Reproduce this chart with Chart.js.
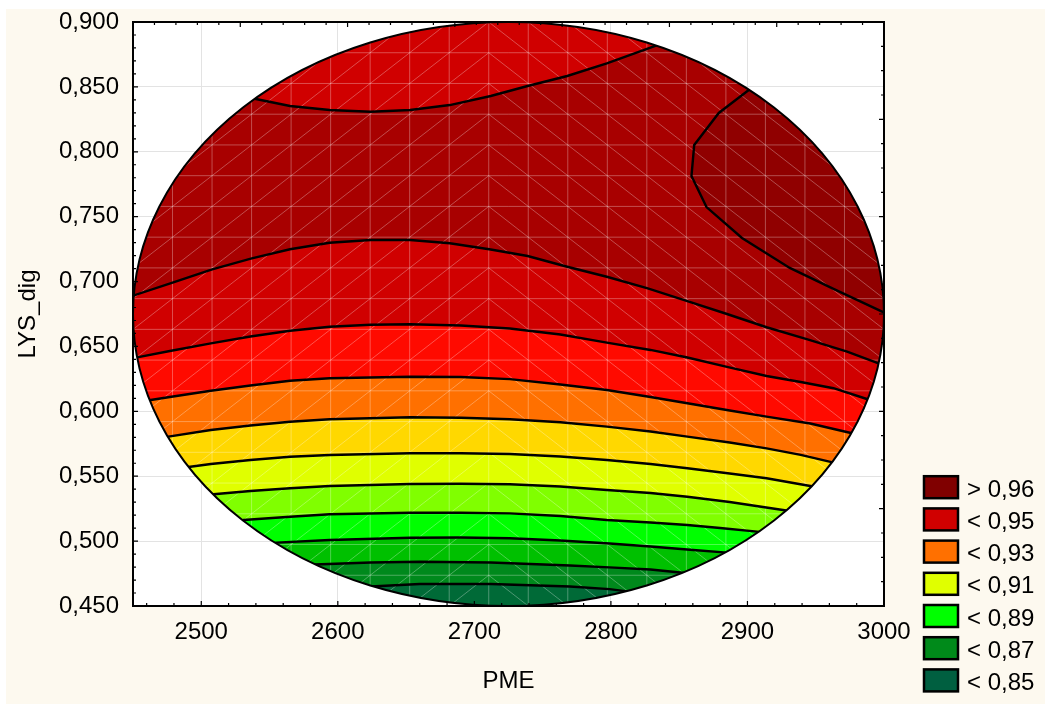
<!DOCTYPE html>
<html>
<head>
<meta charset="utf-8">
<script src="https://cdn.jsdelivr.net/npm/chart.js@4.4.1/dist/chart.umd.min.js"></script>
<style>
  html, body { margin: 0; padding: 0; background: #fff; }
  canvas { display: block; }
</style>
</head>
<body>
<canvas id="contourChart" width="1045" height="704"></canvas>
<script>
// Axis ranges (the design ellipse fills them)
const pmeRange = [2450, 3000];
const lysRange = [0.45, 0.9];

// Contour lines, [PME, LYS_dig] pairs, one array per level
const iso086 = [[2426, 0.455], [2624, 0.465], [2660, 0.467], [2712, 0.467], [2741, 0.466], [2770, 0.465], [2799, 0.463], [2829, 0.459], [3026, 0.455]];
const iso087 = [[2426, 0.462], [2583, 0.482], [2624, 0.4835], [2660, 0.4841], [2712, 0.4835], [2741, 0.4824], [2770, 0.4812], [2799, 0.4798], [2829, 0.4781], [2858, 0.475], [3026, 0.4585]];
const iso088 = [[2426, 0.474], [2555, 0.4988], [2594, 0.5009], [2653, 0.5026], [2690, 0.5028], [2726, 0.5022], [2763, 0.5005], [2799, 0.4982], [2829, 0.4959], [2858, 0.4933], [2885, 0.4911], [3026, 0.474]];
const iso089 = [[2426, 0.497], [2531, 0.5163], [2565, 0.5188], [2594, 0.5207], [2653, 0.5219], [2690, 0.5219], [2726, 0.5214], [2763, 0.5194], [2797, 0.5163], [2829, 0.5143], [2856, 0.5124], [2880, 0.5101], [2907, 0.5073], [3026, 0.4893]];
const iso090 = [[2426, 0.520], [2509, 0.5361], [2536, 0.5386], [2565, 0.5407], [2594, 0.5425], [2653, 0.5440], [2690, 0.5442], [2726, 0.5438], [2763, 0.5421], [2797, 0.5394], [2829, 0.5371], [2856, 0.5342], [2887, 0.5301], [2926, 0.5240], [3026, 0.5086]];
const iso091 = [[2426, 0.547], [2492, 0.5573], [2507, 0.5594], [2536, 0.5625], [2565, 0.5650], [2594, 0.5664], [2653, 0.5677], [2690, 0.5677], [2726, 0.5671], [2763, 0.5652], [2797, 0.5625], [2829, 0.5594], [2856, 0.5561], [2887, 0.5521], [2914, 0.5484], [2946, 0.5425], [3026, 0.528]];
const iso092 = [[2426, 0.570], [2476, 0.5805], [2507, 0.5856], [2536, 0.5891], [2565, 0.5920], [2594, 0.5939], [2653, 0.5954], [2690, 0.5950], [2726, 0.5939], [2763, 0.5916], [2797, 0.5882], [2829, 0.5845], [2856, 0.5805], [2887, 0.5760], [2914, 0.5715], [2939, 0.5664], [2960, 0.5612], [3026, 0.5456]];
const iso093 = [[2426, 0.5995], [2463, 0.6087], [2477, 0.6110], [2507, 0.6159], [2536, 0.6199], [2565, 0.6236], [2594, 0.6255], [2653, 0.6267], [2690, 0.6265], [2726, 0.6248], [2763, 0.6207], [2797, 0.6164], [2829, 0.6110], [2856, 0.6062], [2887, 0.6006], [2914, 0.5959], [2946, 0.5906], [2975, 0.5835], [3026, 0.5718]];
const iso094 = [[2426, 0.6357], [2453, 0.6416], [2477, 0.6465], [2507, 0.6524], [2536, 0.6577], [2565, 0.6621], [2594, 0.6652], [2624, 0.6667], [2653, 0.6671], [2690, 0.6661], [2726, 0.6638], [2763, 0.6592], [2797, 0.6529], [2829, 0.6473], [2856, 0.6415], [2885, 0.6342], [2914, 0.6272], [2939, 0.6226], [2963, 0.6178], [2988, 0.6093], [3026, 0.5972]];
const iso095a = [[2426, 0.6819], [2450, 0.6891], [2479, 0.6991], [2508, 0.7094], [2537, 0.7179], [2565, 0.7249], [2594, 0.7299], [2624, 0.7320], [2653, 0.7320], [2682, 0.7295], [2712, 0.7247], [2739, 0.7197], [2768, 0.7114], [2797, 0.7037], [2827, 0.6947], [2856, 0.6849], [2885, 0.6750], [2914, 0.6648], [2944, 0.6555], [2973, 0.6460], [2996, 0.6370], [3026, 0.6257]];
const iso095b = [[2521, 0.8445], [2540, 0.8407], [2565, 0.8353], [2594, 0.8322], [2624, 0.8309], [2653, 0.8322], [2682, 0.8360], [2712, 0.8430], [2739, 0.8507], [2768, 0.8584], [2797, 0.8682], [2832, 0.8815], [2851, 0.8888]];
const iso096 = [[2917, 0.8599], [2900, 0.8468], [2879, 0.8299], [2861, 0.8052], [2859, 0.7813], [2870, 0.7574], [2896, 0.7336], [2931, 0.7105], [2963, 0.6943], [2999, 0.6766], [3015, 0.6681]];

// Band colours, lowest band first
const bandColors = ['#006a37', '#00891c', '#00c000', '#00ff00', '#80ff00', '#e0ff00', '#ffd800', '#ff7000', '#ff0a00', '#d00000', '#a80000', '#900000'];

// Legend
const legendLabels = ['> 0,96', '< 0,95', '< 0,93', '< 0,91', '< 0,89', '< 0,87', '< 0,85'];
const legendColors = ['#800000', '#d00000', '#ff7000', '#e0ff00', '#00ff00', '#008a1a', '#005f40'];

const FONT = '"Liberation Sans", Arial, sans-serif';
Chart.defaults.font.family = FONT;
Chart.defaults.color = '#000';

const toPoints = (line) => line.map(([x, y]) => ({ x, y }));

// closing corners for the top-right (> 0,96) region, taken from the axis bounds
const lastIso096 = iso096[iso096.length - 1];
const iso096Shape = iso096.concat([
  [pmeRange[1] + 100, lastIso096[1]],
  [pmeRange[1] + 100, lysRange[1] + 0.1],
  [iso096[0][0], lysRange[1] + 0.1],
]);

// fills are painted one over the other, lowest first
const fillLayers = [
  { line: iso086, fill: 'start', color: bandColors[0] },
  { line: iso086, fill: 'end', color: bandColors[1] },
  { line: iso087, fill: 'end', color: bandColors[2] },
  { line: iso088, fill: 'end', color: bandColors[3] },
  { line: iso089, fill: 'end', color: bandColors[4] },
  { line: iso090, fill: 'end', color: bandColors[5] },
  { line: iso091, fill: 'end', color: bandColors[6] },
  { line: iso092, fill: 'end', color: bandColors[7] },
  { line: iso093, fill: 'end', color: bandColors[8] },
  { line: iso094, fill: 'end', color: bandColors[9] },
  { line: iso095a, fill: 'end', color: bandColors[10] },
  { line: iso095b, fill: 'end', color: bandColors[9] },
  { line: iso096Shape, fill: 'shape', color: bandColors[11] },
];
const isoLines = [iso086, iso087, iso088, iso089, iso090, iso091, iso092, iso093, iso094, iso095a, iso095b, iso096];

const datasets = [];
fillLayers.forEach((layer, i) => {
  datasets.push({
    data: toPoints(layer.line),
    fill: layer.fill,
    backgroundColor: layer.color,
    borderColor: 'rgba(0,0,0,0)',
    borderWidth: 1,
    pointRadius: 0,
    tension: 0,
    order: 100 - i,
  });
});
isoLines.forEach((line) => {
  datasets.push({
    data: toPoints(line),
    fill: false,
    borderColor: '#000',
    borderWidth: 2.4,
    pointRadius: 0,
    tension: 0,
    isoLine: true,
    order: 10,
  });
});

// Ellipse of the experimental region
const traceEllipse = (chart) => {
  const { x, y } = chart.scales;
  const left = x.getPixelForValue(pmeRange[0]);
  const right = x.getPixelForValue(pmeRange[1]);
  const top = y.getPixelForValue(lysRange[1]);
  const bottom = y.getPixelForValue(lysRange[0]);
  chart.ctx.beginPath();
  chart.ctx.ellipse((left + right) / 2, (top + bottom) / 2, (right - left) / 2, (bottom - top) / 2, 0, 0, Math.PI * 2);
};

// Faint triangulation mesh over the surface
const drawMesh = (chart) => {
  const ctx = chart.ctx;
  const { x, y } = chart.scales;
  const n = 19;
  const xs = [];
  const ys = [];
  for (let k = 0; k <= n; k++) {
    xs.push(x.getPixelForValue(pmeRange[0] + (pmeRange[1] - pmeRange[0]) * k / n));
    ys.push(y.getPixelForValue(lysRange[0] + (lysRange[1] - lysRange[0]) * k / n));
  }
  const mid = (xs[0] + xs[n]) / 2;
  ctx.save();
  ctx.strokeStyle = 'rgba(255,255,255,0.3)';
  ctx.lineWidth = 1;
  ctx.beginPath();
  xs.forEach((px) => { ctx.moveTo(px, ys[0]); ctx.lineTo(px, ys[n]); });
  ys.forEach((py) => { ctx.moveTo(xs[0], py); ctx.lineTo(xs[n], py); });
  for (let i = 0; i < n; i++) {
    for (let j = 0; j < n; j++) {
      if ((xs[i] + xs[i + 1]) / 2 < mid - 1) {
        ctx.moveTo(xs[i], ys[j]); ctx.lineTo(xs[i + 1], ys[j + 1]);
      } else {
        ctx.moveTo(xs[i], ys[j + 1]); ctx.lineTo(xs[i + 1], ys[j]);
      }
    }
  }
  ctx.stroke();
  ctx.restore();
};

// Box frame with inward ticks on all four sides
const drawFrame = (chart) => {
  const ctx = chart.ctx;
  const a = chart.chartArea;
  const { x, y } = chart.scales;
  ctx.save();
  ctx.strokeStyle = '#000';
  ctx.lineWidth = 2;
  ctx.strokeRect(a.left, a.top, a.right - a.left, a.bottom - a.top);
  ctx.lineWidth = 1.2;
  ctx.beginPath();
  for (let v = Math.ceil((pmeRange[0] + 1) / 20) * 20; v < pmeRange[1]; v += 20) {
    const px = x.getPixelForValue(v);
    const len = v % 100 === 0 ? 5 : 3;
    ctx.moveTo(px, a.bottom); ctx.lineTo(px, a.bottom - len);
  }
  for (let k = Math.round(lysRange[0] * 100) + 1; k < Math.round(lysRange[1] * 100); k++) {
    const py = y.getPixelForValue(k / 100);
    const len = k % 5 === 0 ? 5 : 3;
    ctx.moveTo(a.left, py); ctx.lineTo(a.left + len, py);
  }
  const w = a.right - a.left;
  for (let k = 1; k < 35; k++) {
    const px = a.left + w * k / 35;
    const len = k % 5 === 0 ? 5 : 3;
    ctx.moveTo(px, a.top); ctx.lineTo(px, a.top + len);
  }
  const h = a.bottom - a.top;
  for (let k = 1; k < 24; k++) {
    const py = a.top + h * k / 24;
    const len = k % 4 === 0 ? 5 : 3;
    ctx.moveTo(a.right, py); ctx.lineTo(a.right - len, py);
  }
  ctx.stroke();
  ctx.restore();
};

const drawLegend = (chart) => {
  const ctx = chart.ctx;
  ctx.save();
  ctx.font = '24px ' + FONT;
  ctx.textAlign = 'left';
  ctx.textBaseline = 'alphabetic';
  legendLabels.forEach((label, i) => {
    const top = 476.2 + i * 32.2;
    ctx.fillStyle = legendColors[i];
    ctx.fillRect(924, top, 34, 22);
    ctx.lineWidth = 2.5;
    ctx.strokeStyle = '#000';
    ctx.strokeRect(924, top, 34, 22);
    ctx.fillStyle = '#000';
    ctx.fillText(label, 967, top + 20.5);
  });
  ctx.restore();
};

let meshDrawn = false;
const contourPlugin = {
  id: 'contourPlugin',
  beforeDraw(chart) {
    const ctx = chart.ctx;
    const a = chart.chartArea;
    ctx.save();
    ctx.fillStyle = '#ffffff';
    ctx.fillRect(0, 0, chart.width, chart.height);
    ctx.fillStyle = '#fdf9ef';
    ctx.fillRect(6, 9, chart.width - 6, chart.height - 9);
    ctx.fillStyle = '#ffffff';
    ctx.fillRect(a.left, a.top, a.right - a.left, a.bottom - a.top);
    ctx.restore();
  },
  beforeDatasetsDraw(chart) {
    chart.ctx.save();
    traceEllipse(chart);
    chart.ctx.clip();
    meshDrawn = false;
  },
  beforeDatasetDraw(chart, args) {
    if (!meshDrawn && chart.data.datasets[args.index].isoLine) {
      drawMesh(chart);
      meshDrawn = true;
    }
  },
  afterDatasetsDraw(chart) {
    const ctx = chart.ctx;
    ctx.restore();
    ctx.save();
    traceEllipse(chart);
    ctx.lineWidth = 2;
    ctx.strokeStyle = '#000';
    ctx.stroke();
    ctx.restore();
    drawFrame(chart);
  },
  afterDraw(chart) {
    drawLegend(chart);
  },
};

const ctx = document.getElementById('contourChart').getContext('2d');
const contourChart = new Chart(ctx, {
  type: 'line',
  data: { datasets },
  plugins: [contourPlugin],
  options: {
    responsive: false,
    animation: false,
    events: [],
    layout: { padding: { left: 0, top: 22, right: 161, bottom: 0 } },
    plugins: {
      legend: { display: false },
      tooltip: { enabled: false },
    },
    scales: {
      x: {
        type: 'linear',
        min: pmeRange[0],
        max: pmeRange[1],
        afterFit: (scale) => {
          scale.height = 98;
          scale.paddingLeft = 0;
          scale.paddingRight = 0;
        },
        ticks: {
          stepSize: 100,
          includeBounds: false,
          maxRotation: 0,
          autoSkip: false,
          padding: 12,
          color: '#000',
          font: { size: 24 },
          callback: (value) => String(value),
        },
        grid: { color: '#e3e3e3', drawTicks: false },
        border: { color: '#000', width: 2 },
        title: { display: true, text: 'PME', color: '#000', font: { size: 24 }, padding: { top: 0, bottom: 8 } },
      },
      y: {
        type: 'linear',
        min: lysRange[0],
        max: lysRange[1],
        afterFit: (scale) => {
          scale.width = 133;
          scale.paddingTop = 0;
          scale.paddingBottom = 0;
        },
        ticks: {
          stepSize: 0.05,
          padding: 14,
          color: '#000',
          font: { size: 24 },
          callback: (value) => value.toFixed(3).replace('.', ','),
        },
        grid: { color: '#e3e3e3', drawTicks: false },
        border: { color: '#000', width: 2 },
        title: { display: true, text: 'LYS_dig', color: '#000', font: { size: 24 }, padding: { top: 14, bottom: 0 } },
      },
    },
  },
});
</script>
</body>
</html>
